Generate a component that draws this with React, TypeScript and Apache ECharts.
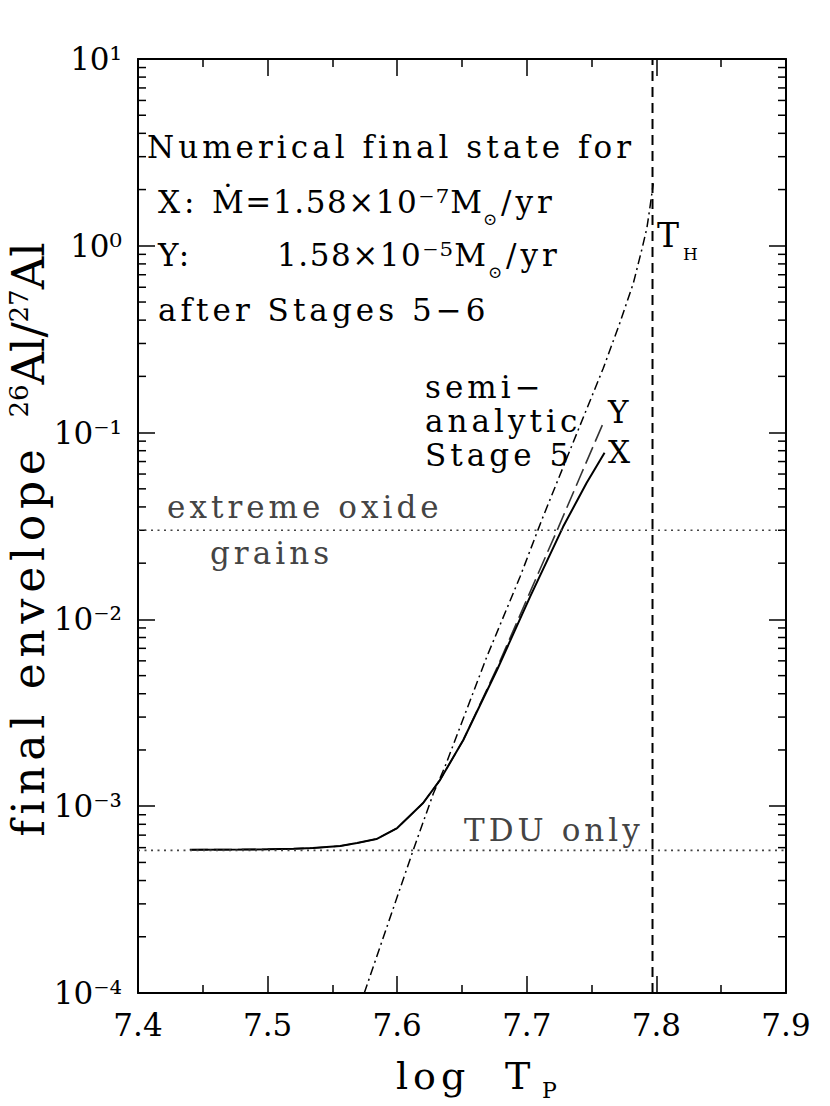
import React, { useEffect, useRef } from "react";
import * as echarts from "echarts";

// ---- data ----
const X_MIN = 7.4;
const X_MAX = 7.9;
const X_INTERVAL = 0.1;
const Y_MIN = 1e-4;
const Y_MAX = 10;

// Numerical final state X (solid)
const numericalX: [number, number][] = [
  [7.44, 5.85e-4], [7.48, 5.86e-4], [7.5, 5.88e-4], [7.52, 5.92e-4], [7.535, 5.97e-4],
  [7.556, 6.12e-4], [7.569, 6.35e-4], [7.584, 6.67e-4], [7.6, 7.64e-4], [7.62, 1.04e-3],
  [7.633, 1.38e-3], [7.651, 2.26e-3], [7.677, 5.36e-3], [7.7025, 1.32e-2], [7.728, 3.13e-2],
  [7.746, 5.36e-2], [7.76, 7.8e-2],
];
// Numerical final state Y (long dashes)
const numericalY: [number, number][] = [
  [7.44, 5.85e-4], [7.48, 5.86e-4], [7.5, 5.88e-4], [7.52, 5.92e-4], [7.535, 5.97e-4],
  [7.556, 6.12e-4], [7.569, 6.35e-4], [7.584, 6.67e-4], [7.6, 7.64e-4], [7.62, 1.04e-3],
  [7.633, 1.38e-3], [7.651, 2.26e-3], [7.677, 5.5e-3], [7.7025, 1.4e-2], [7.7243, 3.1e-2],
  [7.742, 6.0e-2], [7.76, 0.117],
];
// Semi-analytic Stage 5 (dash-dot)
const semiAnalytic: [number, number][] = [
  [7.5746, 1e-4], [7.6124, 5.83e-4], [7.6279, 1.17e-3], [7.6369, 1.63e-3], [7.6691, 6.3e-3],
  [7.6948, 1.69e-2], [7.7115, 3.4e-2], [7.735, 8.6e-2], [7.759, 0.221], [7.772, 0.39],
  [7.7822, 0.63], [7.789, 0.97], [7.7927, 1.25], [7.7951, 1.62], [7.7976, 2.16],
];
const T_H = 7.797;
const EXTREME_OXIDE = 0.03;
const TDU_ONLY = 5.8e-4;
const MINOR_MANTISSAS = [2, 3, 4, 5, 6, 7, 8, 9];
const MINOR_DECADES = [-4, -3, -2, -1, 0];

const SUP: Record<string, string> = {
  "-": "⁻", "0": "⁰", "1": "¹", "2": "²", "3": "³", "4": "⁴",
  "5": "⁵", "6": "⁶", "7": "⁷", "8": "⁸", "9": "⁹",
};
const powLabel = (v: number) => {
  const e = Math.round(Math.log10(v));
  return "10" + String(e).split("").map((c) => SUP[c]).join("");
};

const SERIF = "DejaVu Serif";
const FAMILIES: Record<string, string> = {
  plain: "DejaVu Serif",
  spaced: "DejaVu Serif, Spaced",
  semi: "DejaVu Serif, Semi",
};

function txt(
  text: string, x: number, y: number, size: number,
  opts: { fill?: string; kind?: string; align?: string; rotation?: number; rich?: any } = {}
) {
  return {
    type: "text",
    x, y,
    rotation: opts.rotation || 0,
    silent: true,
    z: 100,
    style: {
      text,
      fontSize: size,
      fontFamily: FAMILIES[opts.kind || "spaced"],
      fill: opts.fill || "#000",
      align: opts.align || "left",
      verticalAlign: "middle",
      ...(opts.rich ? { rich: opts.rich } : {}),
    },
  };
}

export default function App() {
  const ref = useRef<HTMLDivElement>(null);
  useEffect(() => {
    document.body.style.margin = "0";
    const chart = echarts.init(ref.current!, null, { renderer: "svg" });
    const minorVals: number[] = [];
    MINOR_DECADES.forEach((d) => MINOR_MANTISSAS.forEach((m) => minorVals.push(m * Math.pow(10, d))));

    const axisCommon = {
      min: X_MIN, max: X_MAX, interval: X_INTERVAL,
      axisLine: { show: true, onZero: false, lineStyle: { color: "#000", width: 2 } },
      axisTick: { show: true, inside: true, length: 17, lineStyle: { color: "#000", width: 1.5 } },
      minorTick: { show: true, splitNumber: 2, length: 8, lineStyle: { color: "#000", width: 1.5 } },
      splitLine: { show: false },
      minorSplitLine: { show: false },
    };
    const yCommon = {
      type: "log", logBase: 10, min: Y_MIN, max: Y_MAX,
      axisLine: { show: true, onZero: false, lineStyle: { color: "#000", width: 2 } },
      axisTick: { show: true, inside: true, length: 17, lineStyle: { color: "#000", width: 1.5 } },
      splitLine: { show: false },
    };

    chart.setOption({
      animation: false,
      backgroundColor: "#fff",
      grid: { left: 138, top: 59, width: 648, height: 934, containLabel: false },
      xAxis: [
        {
          type: "value", position: "bottom", ...axisCommon,
          axisLabel: {
            show: true, margin: 16, fontSize: 31, fontFamily: SERIF, color: "#000",
            formatter: (v: number) => v.toFixed(1),
          },
        },
        { type: "value", position: "top", ...axisCommon, axisLabel: { show: false } },
      ],
      yAxis: [
        {
          ...yCommon, position: "left",
          axisLabel: {
            show: true, margin: 16, fontSize: 31, fontFamily: SERIF, color: "#000",
            formatter: (v: number) => powLabel(v),
          },
        },
        { ...yCommon, position: "right", axisLabel: { show: false } },
      ],
      series: [
        {
          type: "line", data: numericalY, showSymbol: false, silent: true,
          lineStyle: { color: "#333", width: 1.6, type: [18, 6] },
        },
        {
          type: "line", data: numericalX, showSymbol: false, silent: true,
          lineStyle: { color: "#000", width: 2 },
        },
        {
          type: "line", data: semiAnalytic, showSymbol: false, silent: true,
          lineStyle: { color: "#000", width: 1.5, type: [9, 4, 2, 4] },
        },
        {
          type: "line", data: [[T_H, Y_MIN], [T_H, Y_MAX]], showSymbol: false, silent: true,
          lineStyle: { color: "#000", width: 2, type: [10, 6] },
        },
        {
          type: "line", data: [[X_MIN, EXTREME_OXIDE], [X_MAX, EXTREME_OXIDE]], showSymbol: false, silent: true,
          lineStyle: { color: "#444", width: 1.6, type: [2, 4.5] },
        },
        {
          type: "line", data: [[X_MIN, TDU_ONLY], [X_MAX, TDU_ONLY]], showSymbol: false, silent: true,
          lineStyle: { color: "#444", width: 1.6, type: [2, 4.5] },
        },
        {
          type: "custom", silent: true, clip: false,
          data: minorVals.map((v) => [X_MIN, v]),
          encode: { x: 0, y: 1 },
          renderItem: (_p: any, api: any) => {
            const v = api.value(1);
            const pl = api.coord([X_MIN, v]);
            const pr = api.coord([X_MAX, v]);
            const st = { stroke: "#000", lineWidth: 1.5 };
            return {
              type: "group",
              children: [
                { type: "line", shape: { x1: pl[0], y1: pl[1], x2: pl[0] + 8, y2: pl[1] }, style: st },
                { type: "line", shape: { x1: pr[0] - 8, y1: pr[1], x2: pr[0], y2: pr[1] }, style: st },
              ],
            };
          },
        },
      ],
      graphic: [
        txt("Numerical final state for", 147, 147, 31),
        txt("X:", 158, 202, 31),
        txt("Ṁ=", 212, 202, 31, { kind: "semi" }),
        txt("1.58×10⁻⁷M", 273, 202, 31, { kind: "semi" }),
        txt("⊙", 483, 219, 17, { kind: "plain" }),
        txt("/yr", 501, 202, 31),
        txt("Y:", 158, 255, 31),
        txt("1.58×10⁻⁵M", 277, 255, 31, { kind: "semi" }),
        txt("⊙", 488, 272, 17, { kind: "plain" }),
        txt("/yr", 506, 255, 31),
        txt("after Stages 5−6", 158, 310, 31),
        txt("semi−", 425, 387, 31),
        txt("analytic", 425, 421, 31),
        txt("Stage 5", 425, 455, 31),
        txt("Y", 608, 412, 31),
        txt("X", 608, 452, 31),
        txt("T", 657, 235, 33, { kind: "plain" }),
        txt("H", 683, 254, 17, { kind: "plain" }),
        txt("extreme oxide", 167, 507, 31, { fill: "#444" }),
        txt("grains", 210, 553, 31, { fill: "#444" }),
        txt("TDU only", 464, 830, 31, { fill: "#444" }),
        txt("log", 396, 1076, 38),
        txt("T", 505, 1076, 38),
        txt("P", 542, 1090, 22, { kind: "plain" }),
        txt("final envelope", 28, 640, 44, { align: "center", rotation: Math.PI / 2 }),
        txt("{s|26}Al/{s|27}Al", 28, 330, 45, {
          align: "center", rotation: Math.PI / 2, kind: "plain",
          rich: { s: { fontSize: 26, fontFamily: SERIF, verticalAlign: "top", lineHeight: 45 } },
        }),
      ],
    });
    return () => chart.dispose();
  }, []);
  return (
    <>
      <style>{`text[style*="Spaced"] { letter-spacing: 0.13em; } text[style*="Semi"] { letter-spacing: 0.05em; }`}</style>
      <div ref={ref} style={{ width: 830, height: 1106 }} />
    </>
  );
}
